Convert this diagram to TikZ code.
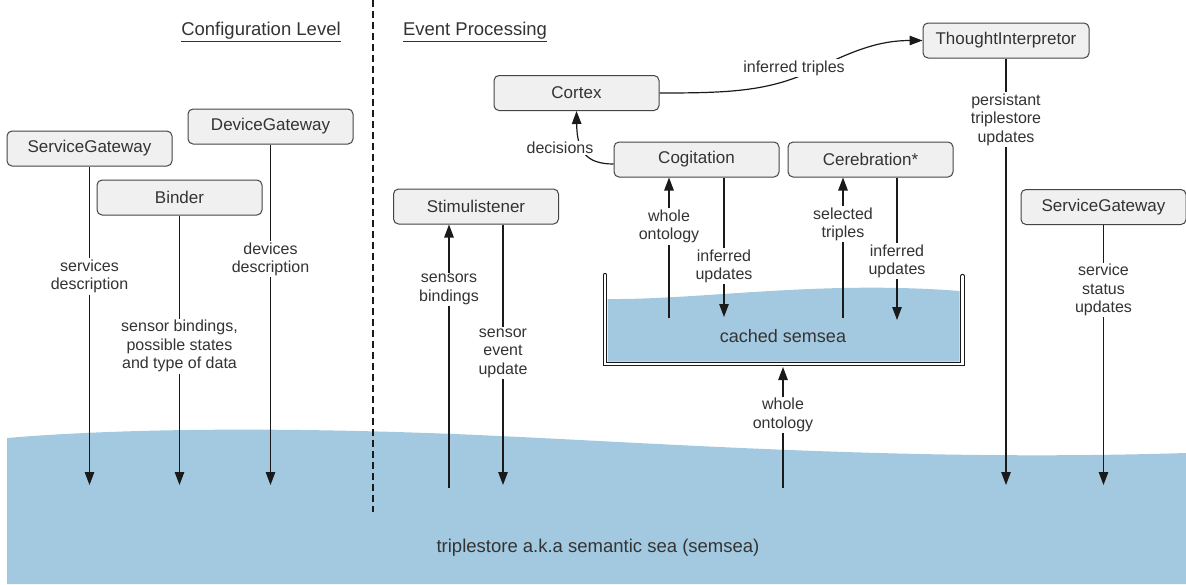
\documentclass[tikz,border=0pt]{standalone}
\usepackage{fontspec}
\setmainfont{Liberation Sans}
\usetikzlibrary{arrows.meta}

\definecolor{sea}{HTML}{A3C9E0}
\definecolor{boxfill}{HTML}{F0F0F0}
\definecolor{ink}{HTML}{333333}
\definecolor{frame}{HTML}{444444}
\definecolor{edge}{HTML}{1A1A1A}

\begin{document}
\begin{tikzpicture}[x=1pt,y=-1pt,
  comp/.style={draw=frame, line width=1pt, fill=boxfill, rounded corners=5pt,
    minimum width=165pt, minimum height=35pt, inner sep=0pt, text=ink,
    font=\fontsize{17}{20}\selectfont},
  lbl/.style={fill=white, inner sep=1.5pt, align=center, text=ink,
    font=\fontsize{16}{18.5}\selectfont},
  flow/.style={draw=edge, line width=1.2pt, -{Triangle[length=13pt,width=9.5pt]}},
  tank/.style={draw=edge, line width=1.1pt, double=white, double distance=2.2pt,
    line cap=round},
  heading/.style={text=ink, font=\fontsize{18.5}{22}\selectfont},
  pool/.style={text=ink, font=\fontsize{18.5}{22}\selectfont}
]
\useasboundingbox (0,0) rectangle (1186,584);

% the semantic sea at the bottom
\fill[sea] (7,438) .. controls (100,430) and (250,426) .. (454,434)
  .. controls (650,442) and (900,462) .. (1186,453)
  -- (1186,584) -- (7,584) -- cycle;
\node[pool] (semsea) at (598,548) {triplestore a.k.a semantic sea (semsea)};

% separator between the two levels
\draw[edge, line width=1.2pt, dash pattern=on 7pt off 4pt] (373,0) -- (373,512);
\node[heading] (hconf) at (261,32) {\underline{Configuration Level}};
\node[heading] (hevent) at (475,32) {\underline{Event Processing}};

% free ends of the connectors
\coordinate (tip) at (0,485);
\coordinate (src) at (0,488);

% configuration components
\node[comp] (sgl) at (89.5,148.5) {ServiceGateway};
\node[comp] (dg) at (270.5,126.5) {DeviceGateway};
\node[comp] (binder) at (179.5,197.5) {Binder};

\draw[flow] (sgl) -- (sgl |- tip) node[lbl,pos=0.345] {services\\description};
\draw[flow] (binder) -- (binder |- tip)
  node[lbl,pos=0.485] {sensor bindings,\\possible states\\and type of data};
\draw[flow] (dg) -- (dg |- tip) node[lbl,pos=0.337] {devices\\description};

% event processing components
\node[comp] (cortex) at (576.5,93) {Cortex};
\node[comp] (cog) at (696.5,159.5) {Cogitation};
\node[comp] (cer) at (870.5,159.5) {Cerebration*};
\node[comp, minimum width=166pt] (ti) at (1006,40.5) {ThoughtInterpretor};
\node[comp] (stim) at (476,206.5) {Stimulistener};
\node[comp] (sgr) at (1103.5,207) {ServiceGateway};

% cached semsea tank
\fill[sea] (607.5,299) .. controls (700,300) and (820,280) .. (959.5,291)
  -- (959.5,361.5) -- (607.5,361.5) -- cycle;
\draw[tank] (605,275) -- (605,364) -- (962.5,364) -- (962.5,276);
\node[pool, font=\fontsize{18}{21}\selectfont] (cached) at (783,336) {cached semsea};
\coordinate (tankbase) at (783,367);
\coordinate (tanksrc) at (783,488);
\draw[flow] (tanksrc) -- (tankbase) node[lbl,pos=0.603] {whole\\ontology};

% Stimulistener
\coordinate (stimin) at (449,488);
\coordinate (stimout) at (503,485);
\draw[flow] (stimin) -- (stimin |- stim.south) node[lbl,pos=0.754] {sensors\\bindings};
\draw[flow] (stimout |- stim.south) -- (stimout) node[lbl,pos=0.494] {sensor\\event\\update};

% Cogitation
\coordinate (cogin) at (669,318);
\coordinate (cogout) at (724,317);
\draw[flow] (cogin) -- (cogin |- cog.south) node[lbl,pos=0.652] {whole\\ontology};
\draw[flow] (cogout |- cog.south) -- (cogout) node[lbl,pos=0.636] {inferred\\updates};

% Cerebration
\coordinate (cerin) at (843,318);
\coordinate (cerout) at (897,320);
\draw[flow] (cerin) -- (cerin |- cer.south) node[lbl,pos=0.667] {selected\\triples};
\draw[flow] (cerout |- cer.south) -- (cerout) node[lbl,pos=0.587] {inferred\\updates};

% decisions go from Cogitation to Cortex
\draw[flow] ([yshift=-4.5pt]cog.west) .. controls (585,164) and (577,150) .. (cortex.south);
\node[lbl] (declbl) at (560,148) {decisions};

% inferred triples from Cortex to ThoughtInterpretor
\draw[flow] (cortex.east) .. controls (720,93) and (760,92) .. (800,76)
  .. controls (840,58) and (870,40.5) .. (ti.west);
\node[lbl] (inflbl) at (794,68) {inferred triples};

% persistent updates and service status
\draw[flow] (ti) -- (ti |- tip)
  node[lbl,pos=0.143] {persistant\\triplestore\\updates};
\draw[flow] (sgr) -- (sgr |- tip) node[lbl,pos=0.25] {service\\status\\updates};

\end{tikzpicture}
\end{document}
